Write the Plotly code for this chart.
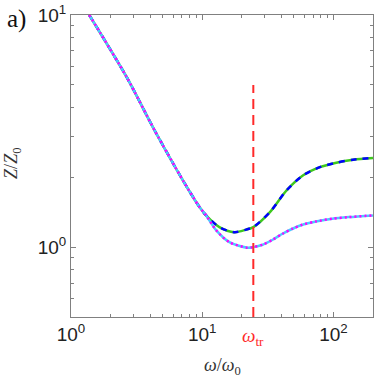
import numpy as np
import plotly.graph_objects as go

# frequency samples (omega / omega_0)
w_shared = [1.377, 2.65, 4.34, 7.12, 9.54, 10.7]
z_shared = [10.0, 5.41, 3.18, 1.94, 1.487, 1.37]

w_upper = [13.5, 17.6, 21.6, 24.5, 32.8, 43.9, 58.8, 78.7, 105, 141, 200]
z_upper = [1.22, 1.16, 1.19, 1.22, 1.416, 1.756, 2.04, 2.21, 2.31, 2.38, 2.42]

w_lower = [12.8, 16.1, 22.2, 24.5, 28.8, 34.4, 40.9, 48.7, 58.0, 73.5, 98.1, 131, 200]
z_lower = [1.18, 1.05, 0.994, 1.0, 1.024, 1.076, 1.142, 1.20, 1.249, 1.29, 1.326, 1.347, 1.37]

w_tr = 24.5
tr_span = [0.5, 5.0]

xu = w_shared + w_upper
yu = z_shared + z_upper
xl = w_shared + w_lower
yl = z_shared + z_lower

serif = "Liberation Serif"
sans = "Liberation Sans"

fig = go.Figure()
# upper pair: green solid under blue dashes
fig.add_trace(go.Scatter(x=xu, y=yu, mode="lines",
                         line=dict(color="#3ec81e", width=2.5, shape="spline", smoothing=0.8)))
fig.add_trace(go.Scatter(x=xu, y=yu, mode="lines",
                         line=dict(color="#0000ff", width=2.5, dash="6px,6px", shape="spline", smoothing=0.8)))
# lower pair: cyan solid under magenta dots
fig.add_trace(go.Scatter(x=xl, y=yl, mode="lines",
                         line=dict(color="#4cc8ff", width=2.5, shape="spline", smoothing=0.8)))
fig.add_trace(go.Scatter(x=xl, y=yl, mode="lines",
                         line=dict(color="#ff00ff", width=2.5, dash="2px,3px", shape="spline", smoothing=0.8)))
# transition frequency
fig.add_trace(go.Scatter(x=[w_tr, w_tr], y=tr_span, mode="lines",
                         line=dict(color="#ff2a2a", width=2, dash="10px,6px")))

fig.update_xaxes(
    type="log", range=[0, np.log10(200)],
    tickvals=[1, 10, 100],
    ticktext=["10<sup>0</sup>", "10<sup>1</sup>", "10<sup>2</sup>"],
    ticks="inside", ticklen=5, tickcolor="#808080",
    minor=dict(ticks="inside", ticklen=3, tickcolor="#808080",
               tickvals=[2, 3, 4, 5, 6, 7, 8, 9, 20, 30, 40, 50, 60, 70, 80, 90, 200]),
    showline=True, linecolor="#808080", linewidth=1, mirror="allticks",
    showgrid=False, zeroline=False, ticklabeloverflow="allow",
    tickfont=dict(family=sans, size=19, color="#222"),
)
fig.update_yaxes(
    type="log", range=[np.log10(0.5), 1],
    tickvals=[1, 10],
    ticktext=["10<sup>0</sup>", "10<sup>1</sup>"],
    ticks="inside", ticklen=5, tickcolor="#808080",
    minor=dict(ticks="inside", ticklen=3, tickcolor="#808080",
               tickvals=[0.6, 0.7, 0.8, 0.9, 2, 3, 4, 5, 6, 7, 8, 9]),
    showline=True, linecolor="#808080", linewidth=1, mirror="allticks",
    showgrid=False, zeroline=False, ticklabeloverflow="allow",
    tickfont=dict(family=sans, size=19, color="#222"),
)

# axis titles and labels placed as annotations for exact positioning
fig.add_annotation(x=0.5, y=-0.163, xref="paper", yref="paper", yanchor="middle",
                   text="<i>ω</i>/<i>ω</i><sub>0</sub>", showarrow=False,
                   font=dict(family=serif, size=18, color="#333"))
fig.add_annotation(x=-0.192, y=0.507, xref="paper", yref="paper", xanchor="center", yanchor="middle",
                   text="<i>Z</i>/<i>Z</i><sub>0</sub>", showarrow=False, textangle=-90,
                   font=dict(family=serif, size=18, color="#333"))
fig.add_annotation(x=np.log10(w_tr), y=-0.066, xref="x", yref="paper", yanchor="middle",
                   text="<i>ω</i><sub>tr</sub>", showarrow=False,
                   font=dict(family=serif, size=19, color="#ff2a2a"))
fig.add_annotation(x=-0.182, y=0.987, xref="paper", yref="paper", xanchor="center", yanchor="middle",
                   text="a)", showarrow=False, font=dict(family=serif, size=25, color="#111"))

fig.update_layout(
    width=374, height=379,
    margin=dict(l=71, r=1, t=15, b=62),
    paper_bgcolor="white", plot_bgcolor="white",
    showlegend=False,
)

# drop the default 8px body margin so the figure sits at the page corner
fig.write_html("out.html", config={"displayModeBar": False},
               post_script="document.body.style.margin = '0';")
